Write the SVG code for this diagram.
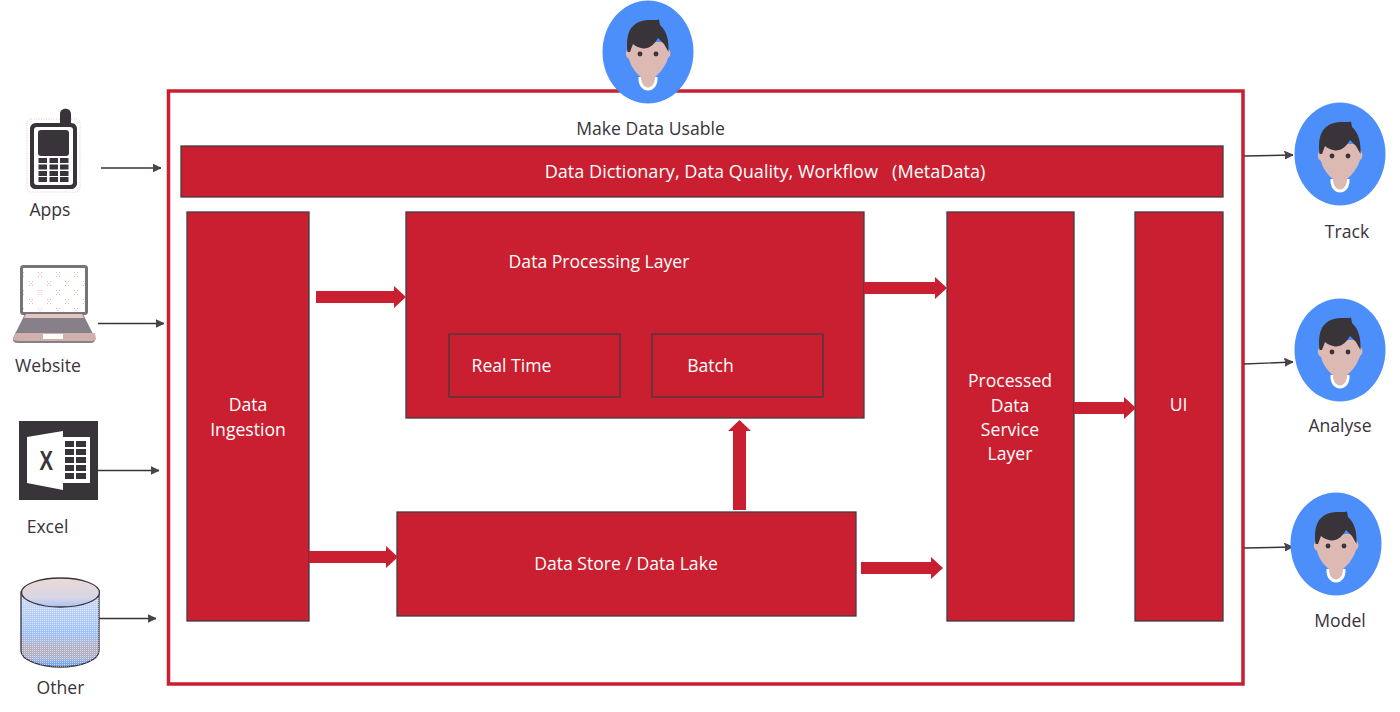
<svg xmlns="http://www.w3.org/2000/svg" width="1400" height="712" viewBox="0 0 1400 712">
<style>
text{font-family:"Open Sans","Noto Sans","Liberation Sans",sans-serif;font-size:17.6px}
.d{fill:#39333a}.w{fill:#fff}
.k{fill:#c91f30;stroke:#433c42;stroke-width:1.300}
.th{stroke:#3a3338;stroke-width:1.400;fill:none;marker-end:url(#ah)}
.hd{fill:#c91f30}
.dots{fill:none;stroke:#e6c4bd;stroke-width:1;stroke-dasharray:1 1.500}
</style>
<defs>
<marker id="ah" markerUnits="userSpaceOnUse" markerWidth="10" markerHeight="10" refX="8.500" refY="4.500" orient="auto"><path d="M0,.5L8.500,4.500L0,8.500L1.500,4.500Z" fill="#4a454a" stroke="#3a3338" stroke-width=".8"/></marker>
<pattern id="scr" width="18" height="18" patternUnits="userSpaceOnUse"><rect width="18" height="18" fill="#fff"/><path d="M2,2h1v1h-1zM5,2h1v1h-1zM3.500,4h1v1h-1zM2,6h1v1h-1zM5,6h1v1h-1zM11,11h1v1h-1zM14,11h1v1h-1zM12.500,13h1v1h-1zM11,15h1v1h-1zM14,15h1v1h-1z" fill="#e6b9b0"/></pattern>
<pattern id="dth" width="2" height="2" patternUnits="userSpaceOnUse"><rect width="1" height="1" fill="#fff" fill-opacity=".55"/></pattern>
<linearGradient id="cy" x1="0" y1="0" x2="0" y2="1"><stop offset="0" stop-color="#cfdcf4"/><stop offset=".55" stop-color="#9fc1f8"/><stop offset=".78" stop-color="#b5aebb"/><stop offset=".88" stop-color="#a9b3d0"/><stop offset="1" stop-color="#5f9bf9"/></linearGradient>
<linearGradient id="cyt" x1="0" y1="0" x2="0" y2="1"><stop offset="0" stop-color="#ecd9d5"/><stop offset=".7" stop-color="#d6d5e6"/><stop offset="1" stop-color="#a8c4f4"/></linearGradient>
<g id="person">
<ellipse cx="0" cy="0" rx="45.500" ry="51.500" fill="#4d8ffa"/>
<path d="M-9.500,25C-10,33 -6,38.500 0,38.500C6,38.500 10,33 9.500,25Z" fill="#fff"/>
<path d="M-20,-10L20,-10V-3C23,-2 23.500,4 20,6C18,13 13,20 7,25C7,31 4,35.500 0,35.500C-4,35.500 -7,31 -7,25C-12,21 -17,15 -19,7C-23,5 -23,-1 -20,-3Z" fill="#dcb9b3"/>
<path d="M-20.500,0C-22,-15 -20,-27 -6,-31C1,-33 7,-31 11,-32.500L12,-27C19,-21 21,-11 20.500,0L16,-8L10,-14C7,-8 1,-3 -5,-3.500C-9,-4 -13,-6 -15,-8L-18,0Z" class="d"/>
<circle cx="-8" cy="2" r="2.400" class="d"/><circle cx="8" cy="2" r="2.400" class="d"/>
</g>
</defs>
<rect width="1400" height="712" fill="#fff"/>
<g id="frame"><rect x="168.500" y="91" width="1074.500" height="593" fill="#fff" stroke="#c91f30" stroke-width="3.500"/></g>
<g id="usr-top"><use href="#person" x="648" y="52"/></g>
<text x="650.500" y="134.500" text-anchor="middle" class="d">Make Data Usable</text>
<g id="meta"><rect class="k" x="181" y="146" width="1042" height="51"/><text x="765" y="177.500" text-anchor="middle" class="w" xml:space="preserve" style="font-size:18.100px">Data Dictionary, Data Quality, Workflow   (MetaData)</text></g>
<g id="ingest"><rect class="k" x="187" y="212" width="122" height="409"/><text class="w" text-anchor="middle"><tspan x="248" y="411">Data</tspan><tspan x="248" y="435.500">Ingestion</tspan></text></g>
<g id="proc"><rect class="k" x="406" y="212" width="458" height="206"/><text x="599" y="268" text-anchor="middle" class="w">Data Processing Layer</text></g>
<g id="rt"><rect class="k" x="449" y="334" width="171" height="63"/><text x="511.500" y="372" text-anchor="middle" class="w">Real Time</text></g>
<g id="batch"><rect class="k" x="652" y="334" width="171" height="63"/><text x="710.500" y="372" text-anchor="middle" class="w">Batch</text></g>
<g id="store"><rect class="k" x="397" y="512" width="459" height="104"/><text x="626" y="570" text-anchor="middle" class="w">Data Store / Data Lake</text></g>
<g id="service"><rect class="k" x="947" y="212" width="127" height="409"/><text class="w" text-anchor="middle"><tspan x="1010" y="387">Processed</tspan><tspan x="1010" y="411.500">Data</tspan><tspan x="1010" y="435.500">Service</tspan><tspan x="1010" y="460">Layer</tspan></text></g>
<g id="ui"><rect class="k" x="1135" y="212" width="88" height="409"/><text x="1178.500" y="411" text-anchor="middle" class="w">UI</text></g>
<g id="connectors">
<path class="hd" d="M316,291H394V286L406,297L394,308V303H316Z"/>
<path class="hd" d="M864,282H935V277L947,288L935,299V294H864Z"/>
<path class="hd" d="M1074,402H1124V397L1136,408L1124,419V414H1074Z"/>
<path class="hd" d="M309,551H386V546L398,557L386,568V563H309Z"/>
<path class="hd" d="M861,562H931V557L943,568L931,579V574H861Z"/>
<path class="hd" d="M733,510V431H728L739.500,420L751,431H746V510Z"/>
<path class="th" d="M101,168H161"/>
<path class="th" d="M98,323.500H164"/>
<path class="th" d="M98,470.500H159"/>
<path class="th" d="M97,618.500H156"/>
<path class="th" d="M1244,156L1293,155"/>
<path class="th" d="M1244,364L1293,362"/>
<path class="th" d="M1244,548L1293,547"/>
</g>
<g id="apps">
<rect class="dots" x="27" y="119" width="53" height="73" rx="4"/>
<path class="d" d="M60,123V114C60,107 71,107 71,114V123H71C75,123 77,126 77,129V183C77,187 74,189 71,189H36C32,189 30,187 30,183V129C30,126 32,123 36,123Z"/>
<rect x="34" y="127" width="39" height="58" rx="3" fill="#fff"/>
<rect x="38" y="130" width="31" height="26" rx="3" class="d"/>
<g class="d"><rect x="38.500" y="158" width="8.500" height="5"/><rect x="49.500" y="158" width="8.500" height="5"/><rect x="60" y="158" width="8.500" height="5"/><rect x="38.500" y="164.500" width="8.500" height="5"/><rect x="49.500" y="164.500" width="8.500" height="5"/><rect x="60" y="164.500" width="8.500" height="5"/><rect x="38.500" y="171" width="8.500" height="5"/><rect x="49.500" y="171" width="8.500" height="5"/><rect x="60" y="171" width="8.500" height="5"/><rect x="38.500" y="177" width="8.500" height="5"/><rect x="49.500" y="177" width="8.500" height="5"/><rect x="60" y="177" width="8.500" height="5"/></g>
<text x="50" y="215.500" text-anchor="middle" class="d">Apps</text>
</g>
<g id="website">
<rect x="21.500" y="266.500" width="65" height="47" rx="2" fill="url(#scr)" stroke="#77737a" stroke-width="3"/>
<path d="M25,314H83L95,338Q96,343 90,343H18Q12,343 13,338Z" fill="#87808a"/>
<path d="M26,314H82L84,318H24Z" fill="#e3c6bf"/>
<path d="M16,333H95L96,339Q96,341 90,341H18Q13,341 13,338Z" fill="#cfb0ab"/>
<rect x="43" y="334" width="20" height="5" fill="#fff"/>
<text x="48" y="371.500" text-anchor="middle" class="d">Website</text>
</g>
<g id="excel">
<rect x="19" y="421" width="79" height="79" class="d"/>
<path d="M63,437H90V483H63Z" fill="#fff"/>
<path d="M65,441H74V447H65ZM76,441H86V447H76ZM65,449H74V455H65ZM76,449H86V455H76ZM65,457H74V463H65ZM76,457H86V463H76ZM65,465H74V471H65ZM76,465H86V471H76ZM65,473H74V479H65ZM76,473H86V479H76Z" class="d"/>
<path d="M27,437L63,431V490L27,483Z" fill="#fff"/>
<text x="39.500" y="470" class="d" textLength="13.500" lengthAdjust="spacingAndGlyphs" style="font-family:'Liberation Sans',sans-serif;font-weight:700;font-size:27px">X</text>
<text x="47.500" y="532.500" text-anchor="middle" class="d">Excel</text>
</g>
<g id="other">
<path d="M21,592V651C21,660 40,667 60.500,667C81,667 99,660 99,651V592Z" fill="url(#cy)" stroke="#39333a" stroke-width="1.300"/>
<path d="M21,592V651C21,660 40,667 60.500,667C81,667 99,660 99,651V592Z" fill="url(#dth)"/>
<ellipse cx="60.500" cy="592.500" rx="39" ry="14.500" fill="url(#cyt)" stroke="#39333a" stroke-width="1.300"/>
<text x="60.500" y="693.500" text-anchor="middle" class="d">Other</text>
</g>
<g id="track"><use href="#person" x="1340" y="154"/><text x="1347" y="237.500" text-anchor="middle" class="d">Track</text></g>
<g id="analyse"><use href="#person" x="1340" y="350"/><text x="1340" y="432" text-anchor="middle" class="d">Analyse</text></g>
<g id="model"><use href="#person" x="1336" y="544"/><text x="1340" y="626.500" text-anchor="middle" class="d">Model</text></g>
</svg>
